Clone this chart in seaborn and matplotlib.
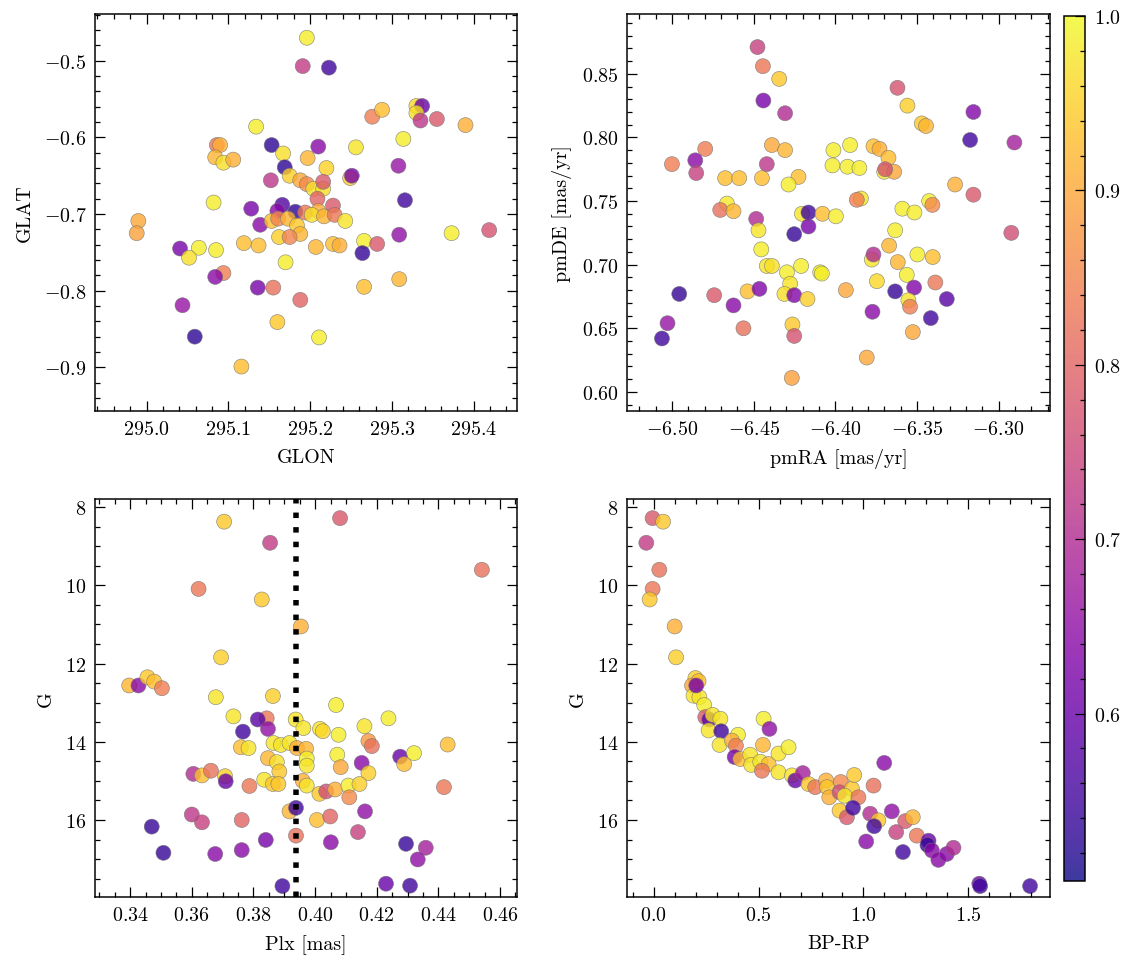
import numpy as np
import pandas as pd
import matplotlib
matplotlib.use('Agg')
import matplotlib.pyplot as plt
import matplotlib.colors as mcolors
import seaborn as sns

# GLON / GLAT panel
glon = [295.196, 295.191, 295.134, 295.086, 295.090, 295.153, 295.167, 295.084, 295.094, 295.106,
        295.169, 295.197, 295.175, 295.188, 295.152, 295.196, 295.082, 295.128, 295.166, 295.160,
        295.182, 295.194, 295.139, 295.153, 295.161, 295.173, 295.184, 295.188, 295.162, 295.175,
        294.990, 294.988, 295.041, 295.064, 295.052, 295.085, 295.119, 295.137, 295.170, 295.094,
        295.084, 295.136, 295.155, 295.044, 295.188, 295.160, 295.059, 295.116,
        295.223, 295.330, 295.337, 295.330, 295.335, 295.276, 295.288, 295.355, 295.390, 295.314,
        295.210, 295.256, 295.220, 295.308, 295.249, 295.251, 295.204, 295.216, 295.216, 295.209,
        295.316, 295.210, 295.202, 295.217, 295.228, 295.230, 295.243, 295.373, 295.419, 295.309,
        295.266, 295.282, 295.264, 295.207, 295.228, 295.236, 295.309, 295.266, 295.211]
glat = [-0.470, -0.507, -0.586, -0.610, -0.610, -0.610, -0.621, -0.626, -0.633, -0.629,
        -0.639, -0.627, -0.650, -0.656, -0.656, -0.661, -0.685, -0.693, -0.688, -0.696,
        -0.697, -0.698, -0.714, -0.709, -0.706, -0.706, -0.715, -0.726, -0.730, -0.730,
        -0.709, -0.725, -0.745, -0.744, -0.757, -0.747, -0.738, -0.741, -0.763, -0.777,
        -0.782, -0.796, -0.796, -0.819, -0.812, -0.841, -0.860, -0.899,
        -0.509, -0.559, -0.559, -0.568, -0.578, -0.573, -0.564, -0.576, -0.584, -0.602,
        -0.612, -0.613, -0.640, -0.637, -0.653, -0.650, -0.667, -0.667, -0.658, -0.680,
        -0.682, -0.696, -0.701, -0.703, -0.689, -0.701, -0.709, -0.725, -0.721, -0.727,
        -0.735, -0.739, -0.751, -0.743, -0.739, -0.741, -0.785, -0.795, -0.861]
prob_pos = [0.985, 0.73, 0.985, 0.83, 0.91, 0.53, 0.97, 0.92, 0.97, 0.91,
            0.53, 0.92, 0.95, 0.90, 0.72, 0.86, 0.985, 0.62, 0.57, 0.64,
            0.53, 0.83, 0.64, 0.93, 0.85, 0.92, 0.94, 0.92, 0.95, 0.85,
            0.90, 0.89, 0.62, 0.985, 0.97, 0.985, 0.93, 0.93, 0.985, 0.84,
            0.64, 0.62, 0.82, 0.66, 0.80, 0.94, 0.53, 0.93,
            0.55, 0.96, 0.60, 0.97, 0.72, 0.84, 0.93, 0.78, 0.91, 0.985,
            0.64, 0.975, 0.955, 0.66, 0.95, 0.62, 0.97, 0.97, 0.78, 0.80,
            0.55, 0.91, 0.97, 0.92, 0.78, 0.83, 0.975, 0.985, 0.77, 0.65,
            0.985, 0.78, 0.54, 0.92, 0.93, 0.91, 0.92, 0.93, 0.985]

# proper motion panel
pmra = [-6.4476, -6.4443, -6.4343, -6.4440, -6.4307, -6.4796, -6.4388, -6.4307, -6.5000, -6.4857,
        -6.4851, -6.4419, -6.4674, -6.4588, -6.4449, -6.4225, -6.4286, -6.4663, -6.4704, -6.4623,
        -6.4484, -6.4204, -6.4164, -6.4164, -6.4251, -6.4470, -6.4453, -6.4419, -6.4388, -6.4209,
        -6.4092, -6.4296, -6.4276, -6.4311, -6.4251, -6.4170, -6.4955, -6.4741, -6.4623, -6.4537,
        -6.4464, -6.4562, -6.4262, -6.4251, -6.5027, -6.5061, -6.4266,
        -6.3619, -6.3558, -6.3470, -6.3444, -6.3154, -6.3174, -6.2903, -6.4011, -6.3909, -6.3766,
        -6.3729, -6.3674, -6.4017, -6.3925, -6.3852, -6.3700, -6.3639, -6.3694, -6.3266, -6.3154,
        -6.3843, -6.3868, -6.3425, -6.3405, -6.3589, -6.3515, -6.4078, -6.3996, -6.2922, -6.3633,
        -6.3670, -6.3776, -6.3766, -6.3617, -6.3497, -6.3403, -6.3562, -6.4082, -6.3745, -6.3387,
        -6.3935, -6.3633, -6.3517, -6.3317, -6.3552, -6.3542, -6.3772, -6.3415, -6.3525, -6.3807]
pmde = [0.871, 0.856, 0.846, 0.829, 0.819, 0.791, 0.794, 0.790, 0.779, 0.782,
        0.772, 0.779, 0.768, 0.768, 0.768, 0.769, 0.763, 0.748, 0.743, 0.742,
        0.736, 0.740, 0.741, 0.730, 0.724, 0.727, 0.712, 0.699, 0.699, 0.699,
        0.694, 0.694, 0.685, 0.677, 0.676, 0.673, 0.677, 0.676, 0.668, 0.679,
        0.681, 0.650, 0.653, 0.644, 0.654, 0.642, 0.611,
        0.839, 0.825, 0.811, 0.809, 0.820, 0.798, 0.796, 0.790, 0.794, 0.793,
        0.791, 0.784, 0.778, 0.777, 0.776, 0.773, 0.773, 0.775, 0.763, 0.755,
        0.752, 0.751, 0.750, 0.747, 0.744, 0.741, 0.740, 0.738, 0.725, 0.727,
        0.715, 0.704, 0.708, 0.702, 0.708, 0.706, 0.692, 0.693, 0.687, 0.686,
        0.680, 0.679, 0.682, 0.673, 0.672, 0.667, 0.663, 0.658, 0.647, 0.627]
prob_pm = [0.74, 0.83, 0.94, 0.62, 0.70, 0.84, 0.90, 0.92, 0.84, 0.64,
           0.74, 0.72, 0.93, 0.93, 0.93, 0.93, 0.985, 0.98, 0.82, 0.92,
           0.70, 0.975, 0.55, 0.62, 0.54, 0.975, 0.985, 0.975, 0.97, 0.985,
           0.985, 0.985, 0.975, 0.97, 0.63, 0.95, 0.54, 0.78, 0.64, 0.93,
           0.63, 0.82, 0.94, 0.77, 0.66, 0.55, 0.89,
           0.77, 0.95, 0.94, 0.92, 0.63, 0.55, 0.68, 0.985, 0.985, 0.93,
           0.91, 0.93, 0.985, 0.985, 0.985, 0.975, 0.90, 0.77, 0.91, 0.78,
           0.975, 0.84, 0.985, 0.86, 0.985, 0.985, 0.93, 0.985, 0.76, 0.985,
           0.92, 0.975, 0.70, 0.92, 0.985, 0.93, 0.985, 0.985, 0.96, 0.83,
           0.90, 0.54, 0.63, 0.58, 0.975, 0.84, 0.64, 0.55, 0.90, 0.90]

# parallax panel
plx = [0.3705, 0.3854, 0.3622, 0.3827, 0.3954, 0.3695, 0.3397, 0.3427, 0.3456, 0.3478,
       0.3503, 0.3678, 0.3863, 0.3735, 0.3843, 0.3814, 0.3847, 0.3766, 0.3937, 0.3962,
       0.3759, 0.3784, 0.3865, 0.3889, 0.3917, 0.3941, 0.3971, 0.3847, 0.3876, 0.3884,
       0.3835, 0.3863, 0.3881, 0.3960, 0.3973, 0.3605, 0.3633, 0.3662, 0.3708, 0.3710,
       0.3787, 0.3917, 0.3938, 0.3600, 0.3633, 0.3762, 0.3938, 0.3470, 0.3508, 0.3676,
       0.3762, 0.3840, 0.3894,
       0.4081, 0.4541, 0.4068, 0.4238, 0.4016, 0.4025, 0.4076, 0.4160, 0.4173, 0.4184,
       0.4072, 0.3973, 0.3973, 0.4083, 0.4151, 0.4173, 0.4276, 0.4289, 0.4321, 0.4430,
       0.4418, 0.4014, 0.4036, 0.4065, 0.4108, 0.4144, 0.4111, 0.4006, 0.4049, 0.4162,
       0.4139, 0.4051, 0.4295, 0.4359, 0.4333, 0.4230, 0.4308]
g_plx = [8.37, 8.91, 10.09, 10.36, 11.05, 11.84, 12.56, 12.56, 12.35, 12.46,
         12.63, 12.86, 12.83, 13.35, 13.40, 13.43, 13.67, 13.74, 13.43, 13.65,
         14.14, 14.16, 14.03, 14.08, 14.03, 14.16, 14.18, 14.42, 14.52, 14.76,
         14.97, 15.08, 15.08, 15.00, 15.12, 14.82, 14.86, 14.74, 14.88, 15.01,
         15.13, 15.78, 15.69, 15.86, 16.06, 16.00, 16.40, 16.17, 16.84, 16.87,
         16.77, 16.51, 17.69,
         8.28, 9.60, 13.06, 13.40, 13.67, 13.73, 13.82, 13.60, 13.98, 14.11,
         14.33, 14.43, 14.61, 14.65, 14.54, 14.80, 14.38, 14.57, 14.29, 14.07,
         15.16, 15.33, 15.27, 15.22, 15.12, 15.08, 15.42, 16.00, 15.91, 15.78,
         16.31, 16.57, 16.61, 16.71, 17.01, 17.63, 17.68]
prob_plx = [0.94, 0.73, 0.83, 0.94, 0.91, 0.95, 0.92, 0.64, 0.94, 0.93,
            0.84, 0.975, 0.95, 0.975, 0.83, 0.58, 0.65, 0.55, 0.975, 0.975,
            0.93, 0.975, 0.975, 0.975, 0.975, 0.91, 0.92, 0.92, 0.97, 0.94,
            0.975, 0.94, 0.94, 0.91, 0.975, 0.70, 0.93, 0.82, 0.95, 0.60,
            0.83, 0.92, 0.55, 0.72, 0.74, 0.80, 0.82, 0.54, 0.54, 0.64,
            0.64, 0.62, 0.55,
            0.78, 0.82, 0.985, 0.985, 0.975, 0.96, 0.985, 0.975, 0.88, 0.82,
            0.985, 0.985, 0.975, 0.90, 0.64, 0.95, 0.60, 0.93, 0.985, 0.93,
            0.83, 0.94, 0.76, 0.91, 0.985, 0.95, 0.86, 0.93, 0.80, 0.65,
            0.74, 0.64, 0.54, 0.68, 0.65, 0.60, 0.55]
plx_mean = 0.3938

# colour-magnitude panel
bprp = [-0.005, 0.045, -0.035, 0.027, -0.005, -0.019, 0.100, 0.107, 0.199, 0.214,
        0.183, 0.190, 0.218, 0.203, 0.241, 0.246, 0.265, 0.281, 0.318, 0.262,
        0.322, 0.314, 0.402, 0.373, 0.392, 0.386, 0.413, 0.460, 0.465, 0.524,
        0.552, 0.521, 0.508, 0.548, 0.516, 0.595, 0.643, 0.595, 0.659, 0.675,
        0.711, 0.738, 0.770, 0.822, 0.826, 0.837, 0.892, 0.886, 0.945, 0.956,
        0.910, 0.976, 0.886, 0.921, 0.950, 1.099, 1.048, 1.032, 1.071, 1.051,
        1.013, 1.135, 1.156, 1.199, 1.235, 1.188, 1.254, 1.310, 1.305, 1.326,
        1.357, 1.397, 1.429, 1.552, 1.556, 1.794]
g_cmd = [8.28, 8.37, 8.91, 9.60, 10.09, 10.36, 11.05, 11.84, 12.37, 12.45,
         12.56, 12.82, 12.86, 12.56, 13.06, 13.37, 13.43, 13.31, 13.41, 13.71,
         13.73, 14.08, 13.82, 13.97, 14.10, 14.39, 14.44, 14.33, 14.59, 13.41,
         13.67, 14.08, 14.51, 14.57, 14.74, 14.30, 14.14, 14.78, 14.86, 14.99,
         14.80, 15.08, 15.16, 14.99, 15.16, 15.42, 15.03, 15.29, 15.20, 14.85,
         15.38, 15.42, 15.76, 15.93, 15.69, 14.54, 15.12, 15.84, 16.01, 16.16,
         16.55, 15.78, 16.31, 16.03, 15.93, 16.82, 16.40, 16.53, 16.64, 16.78,
         17.02, 16.87, 16.71, 17.63, 17.69, 17.69]
prob_cmd = [0.78, 0.94, 0.73, 0.82, 0.83, 0.94, 0.91, 0.95, 0.95, 0.93,
            0.90, 0.975, 0.975, 0.62, 0.985, 0.78, 0.58, 0.975, 0.975, 0.975,
            0.55, 0.975, 0.985, 0.91, 0.84, 0.62, 0.93, 0.975, 0.975, 0.985,
            0.65, 0.92, 0.975, 0.93, 0.83, 0.975, 0.985, 0.975, 0.975, 0.60,
            0.68, 0.94, 0.83, 0.91, 0.94, 0.91, 0.86, 0.76, 0.94, 0.94,
            0.975, 0.83, 0.94, 0.78, 0.55, 0.64, 0.82, 0.70, 0.94, 0.55,
            0.64, 0.65, 0.74, 0.78, 0.92, 0.55, 0.83, 0.60, 0.54, 0.64,
            0.64, 0.64, 0.70, 0.60, 0.55, 0.55]

vmin, vmax = 0.504, 1.0

# science-like style
plt.rcParams.update({
    'font.family': 'serif',
    'font.serif': ['cmr10'],
    'mathtext.fontset': 'cm',
    'axes.unicode_minus': False,
    'axes.formatter.use_mathtext': True,
    'font.size': 8,
    'axes.labelsize': 8,
    'xtick.labelsize': 8,
    'ytick.labelsize': 8,
    'axes.linewidth': 0.6,
    'xtick.direction': 'in',
    'ytick.direction': 'in',
    'xtick.top': True,
    'ytick.right': True,
    'xtick.minor.visible': True,
    'ytick.minor.visible': True,
    'xtick.major.size': 4,
    'ytick.major.size': 4,
    'xtick.minor.size': 2,
    'ytick.minor.size': 2,
    'xtick.major.width': 0.5,
    'ytick.major.width': 0.5,
    'xtick.minor.width': 0.5,
    'ytick.minor.width': 0.5,
})

W, H = 1133, 965
fig = plt.figure(figsize=(W / 180, H / 180), dpi=180)


def box(x0, y0, x1, y1):
    return [x0 / W, 1 - y1 / H, (x1 - x0) / W, (y1 - y0) / H]


ax1 = fig.add_axes(box(95, 15, 517, 412))
ax2 = fig.add_axes(box(627, 15, 1050, 412))
ax3 = fig.add_axes(box(95, 500, 517, 898))
ax4 = fig.add_axes(box(627, 500, 1050, 898))
cax = fig.add_axes(box(1064, 17, 1085, 882))

kw = dict(palette='plasma', hue_norm=(vmin, vmax), s=36, alpha=0.8,
          edgecolor='0.45', linewidth=0.25, legend=False)

sns.scatterplot(x=glon, y=glat, hue=prob_pos, ax=ax1, **kw)
ax1.set_xlim(294.937, 295.453)
ax1.set_ylim(-0.957, -0.439)
ax1.set_xlabel('GLON')
ax1.set_ylabel('GLAT')

sns.scatterplot(x=pmra, y=pmde, hue=prob_pm, ax=ax2, **kw)
ax2.set_xlim(-6.5275, -6.2685)
ax2.set_ylim(0.585, 0.897)
ax2.set_xlabel('pmRA [mas/yr]')
ax2.set_ylabel('pmDE [mas/yr]')

sns.scatterplot(x=plx, y=g_plx, hue=prob_plx, ax=ax3, **kw)
ax3.axvline(plx_mean, color='k', linestyle=':', linewidth=2.2)
ax3.set_xlim(0.3286, 0.4655)
ax3.set_ylim(17.97, 7.79)
ax3.set_xlabel('Plx [mas]')
ax3.set_ylabel('G')

sns.scatterplot(x=bprp, y=g_cmd, hue=prob_cmd, ax=ax4, **kw)
ax4.set_xlim(-0.127, 1.889)
ax4.set_ylim(17.97, 7.79)
ax4.set_xlabel('BP-RP')
ax4.set_ylabel('G')

sm = plt.cm.ScalarMappable(cmap='plasma', norm=mcolors.Normalize(vmin, vmax))
cbar = fig.colorbar(sm, cax=cax, alpha=0.8)
cbar.set_ticks([0.6, 0.7, 0.8, 0.9, 1.0])
cbar.minorticks_on()
cbar.ax.tick_params(which='both', direction='in', width=0.5)
cbar.ax.tick_params(which='major', length=4)
cbar.ax.tick_params(which='minor', length=2)
cbar.outline.set_linewidth(0.6)

fig.savefig('out.png', dpi=180)
